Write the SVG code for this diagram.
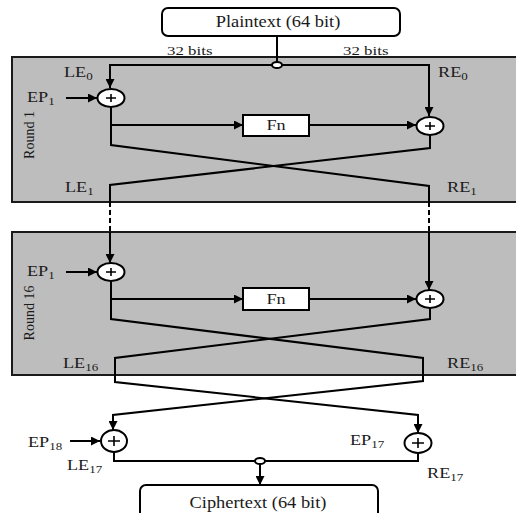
<svg xmlns="http://www.w3.org/2000/svg" width="516" height="513" viewBox="0 0 516 513">
  <style>
    .panel { fill: #bdbdbd; stroke: #1a1a1a; stroke-width: 2; }
    .box { fill: #ffffff; stroke: #000000; stroke-width: 2; }
    .xor { fill: #ffffff; stroke: #000000; stroke-width: 2; }
    .plus { stroke: #000000; stroke-width: 1.6; fill: none; }
    .wire { fill: none; stroke: #000000; stroke-width: 2; }
    .dash { fill: none; stroke: #000000; stroke-width: 2; stroke-dasharray: 5 3; }
    .arrow { fill: none; stroke: #000000; stroke-width: 2; marker-end: url(#head); }
    .title { font-family: "Liberation Serif", "Times New Roman", serif; font-size: 16px; fill: #1a1a1a; }
    .lbl { font-family: "Liberation Serif", "Times New Roman", serif; font-size: 14px; fill: #1a1a1a; }
    .bits { font-family: "Liberation Serif", "Times New Roman", serif; font-size: 13px; fill: #1a1a1a; }
    .sub { font-size: 10px; }
    .round { font-family: "Liberation Serif", "Times New Roman", serif; font-size: 14px; fill: #1a1a1a; text-anchor: middle; }
  </style>
  <defs>
    <marker id="head" viewBox="0 0 10 10" refX="10" refY="5" markerWidth="9" markerHeight="9" markerUnits="userSpaceOnUse" orient="auto">
      <path d="M0,0 L10,5 L0,10 z" fill="#000000"/>
    </marker>
  </defs>

  <!-- round panels -->
  <g id="round1">
    <rect class="panel" x="12" y="57" width="520" height="145"/>
    <text class="round" transform="translate(34 135) rotate(-90)">Round 1</text>
  </g>
  <g id="round16">
    <rect class="panel" x="12" y="232" width="520" height="143"/>
    <text class="round" transform="translate(34 313) rotate(-90)">Round 16</text>
  </g>

  <!-- connectors -->
  <g id="connectors">
    <path class="wire" d="M277,36 V62"/>
    <path class="arrow" d="M277,65 H110 V88"/>
    <path class="arrow" d="M277,65 H429 V116"/>
    <path class="arrow" d="M66,98 H97"/>
    <path class="arrow" d="M111,125 H243"/>
    <path class="arrow" d="M309,125 H416"/>
    <path class="wire" d="M111,107 V145 L429,186 V202"/>
    <path class="wire" d="M430,135 V148 L110,185 V202"/>
    <path class="dash" d="M110,202 V232"/>
    <path class="dash" d="M429,202 V232"/>
    <path class="arrow" d="M110,232 V263"/>
    <path class="arrow" d="M429,232 V290"/>
    <path class="arrow" d="M66,272 H97"/>
    <path class="arrow" d="M111,299 H243"/>
    <path class="arrow" d="M309,299 H416"/>
    <path class="arrow" d="M111,281 V319 L423,358 V381 L113,415 V430"/>
    <path class="arrow" d="M430,308 V319 L115,358 V382 L418,415 V433"/>
    <path class="arrow" d="M70,441 H100"/>
    <path class="wire" d="M114,452 V461 H418 V453"/>
    <path class="arrow" d="M260,464 V485"/>
    <ellipse class="xor" cx="277" cy="65" rx="5" ry="3"/>
    <ellipse class="xor" cx="260" cy="461" rx="5" ry="3"/>
  </g>

  <!-- input / output blocks -->
  <g id="plaintext">
    <rect class="box" x="162" y="8" width="238" height="28" rx="6"/>
    <text class="title" transform="translate(278 27) scale(1.15 1)" text-anchor="middle">Plaintext (64 bit)</text>
  </g>
  <g id="ciphertext">
    <rect class="box" x="140" y="485" width="238" height="40" rx="6"/>
    <text class="title" transform="translate(258 508) scale(1.15 1)" text-anchor="middle">Ciphertext (64 bit)</text>
  </g>

  <g id="split-labels">
    <text class="bits" transform="translate(167 55) scale(1.3 1)">32 bits</text>
    <text class="bits" transform="translate(343 55) scale(1.3 1)">32 bits</text>
  </g>

  <!-- round 1 -->
  <g id="r1-xor-left">
    <ellipse class="xor" cx="111" cy="98" rx="13.5" ry="9"/>
    <path class="plus" d="M106,98 H116 M111,94 V102"/>
  </g>
  <g id="r1-xor-right">
    <ellipse class="xor" cx="430" cy="126" rx="13.5" ry="9"/>
    <path class="plus" d="M425,126 H435 M430,122 V130"/>
  </g>
  <g id="r1-fn">
    <rect class="box" x="243" y="115" width="66" height="21"/>
    <text class="lbl" transform="translate(276 130) scale(1.3 1)" text-anchor="middle">Fn</text>
  </g>
  <g id="r1-labels">
    <text class="lbl" transform="translate(64 77) scale(1.3 1)">LE<tspan class="sub" dy="3">0</tspan></text>
    <text class="lbl" transform="translate(438 77) scale(1.3 1)">RE<tspan class="sub" dy="3">0</tspan></text>
    <text class="lbl" transform="translate(27 102) scale(1.3 1)">EP<tspan class="sub" dy="3">1</tspan></text>
    <text class="lbl" transform="translate(65 192) scale(1.3 1)">LE<tspan class="sub" dy="3">1</tspan></text>
    <text class="lbl" transform="translate(447 192) scale(1.3 1)">RE<tspan class="sub" dy="3">1</tspan></text>
  </g>

  <!-- round 16 -->
  <g id="r16-xor-left">
    <ellipse class="xor" cx="111" cy="272" rx="13.5" ry="9"/>
    <path class="plus" d="M106,272 H116 M111,268 V276"/>
  </g>
  <g id="r16-xor-right">
    <ellipse class="xor" cx="430" cy="299" rx="13.5" ry="9"/>
    <path class="plus" d="M425,299 H435 M430,295 V303"/>
  </g>
  <g id="r16-fn">
    <rect class="box" x="243" y="288" width="66" height="22"/>
    <text class="lbl" transform="translate(276 304) scale(1.3 1)" text-anchor="middle">Fn</text>
  </g>
  <g id="r16-labels">
    <text class="lbl" transform="translate(27 276) scale(1.3 1)">EP<tspan class="sub" dy="3">1</tspan></text>
    <text class="lbl" transform="translate(63 368) scale(1.3 1)">LE<tspan class="sub" dy="3">16</tspan></text>
    <text class="lbl" transform="translate(447 368) scale(1.3 1)">RE<tspan class="sub" dy="3">16</tspan></text>
  </g>

  <!-- output whitening -->
  <g id="out-xor-left">
    <ellipse class="xor" cx="114" cy="441" rx="13" ry="11"/>
    <path class="plus" d="M108,441 H120 M114,436 V446"/>
  </g>
  <g id="out-xor-right">
    <ellipse class="xor" cx="418" cy="443" rx="13.5" ry="10"/>
    <path class="plus" d="M412,443 H424 M418,438 V448"/>
  </g>
  <g id="out-labels">
    <text class="lbl" transform="translate(28 447) scale(1.3 1)">EP<tspan class="sub" dy="3">18</tspan></text>
    <text class="lbl" transform="translate(67 470) scale(1.3 1)">LE<tspan class="sub" dy="3">17</tspan></text>
    <text class="lbl" transform="translate(350 445) scale(1.3 1)">EP<tspan class="sub" dy="3">17</tspan></text>
    <text class="lbl" transform="translate(427 478) scale(1.3 1)">RE<tspan class="sub" dy="3">17</tspan></text>
  </g>
</svg>
